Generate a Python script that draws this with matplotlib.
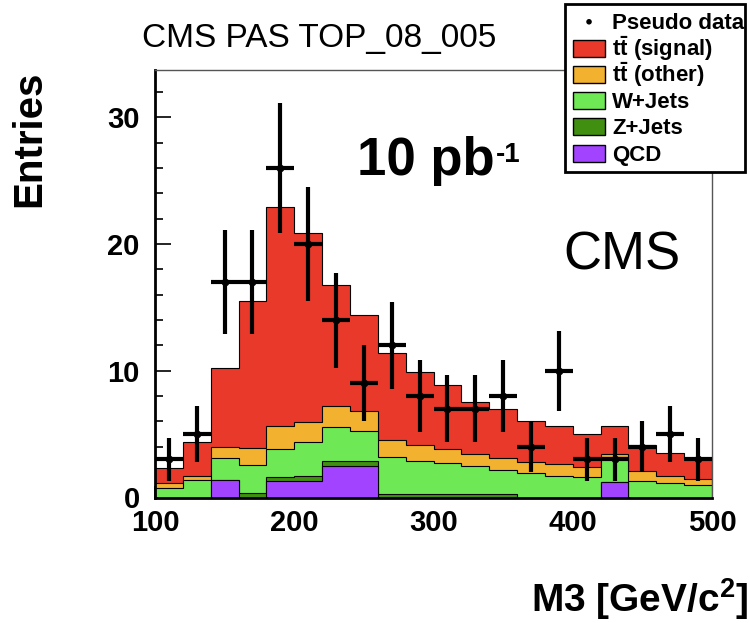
import numpy as np
import matplotlib
matplotlib.use("Agg")
import matplotlib.pyplot as plt
from matplotlib.patches import Patch, Rectangle, Circle
from matplotlib.legend_handler import HandlerPatch

plt.rcParams['font.family'] = ['Liberation Sans', 'DejaVu Sans']
plt.rcParams['mathtext.fontset'] = 'custom'
plt.rcParams['mathtext.rm'] = 'Liberation Sans'
plt.rcParams['mathtext.bf'] = 'Liberation Sans:bold'

# ---- data ----
bin_edges = np.arange(100, 501, 20)
qcd      = [0, 0, 1.35, 0, 1.3, 1.3, 2.45, 2.45, 0, 0, 0, 0, 0, 0, 0, 0, 1.25, 0, 0, 0]
zjets    = [0, 0, 0.03, 0.35, 0.3, 0.4, 0.45, 0.45, 0.3, 0.3, 0.3, 0.3, 0.25, 0, 0, 0, 0, 0, 0, 0]
wjets    = [0.77, 1.38, 1.71, 2.21, 2.23, 2.66, 2.69, 2.37, 2.92, 2.58, 2.4, 2.19, 1.92, 1.96, 1.72, 1.64, 1.97, 1.3, 1.12, 0.99]
tt_other = [0.35, 0.34, 0.87, 1.32, 1.81, 1.62, 1.66, 1.58, 1.32, 1.26, 1.1, 0.94, 0.97, 0.82, 0.9, 0.79, 0.21, 0.79, 0.6, 0.47]
tt_sig   = [1.18, 2.64, 6.29, 11.62, 17.26, 14.87, 9.5, 7.55, 6.84, 5.79, 5.08, 4.13, 3.82, 3.28, 3.05, 2.56, 2.24, 2.05, 1.82, 1.68]
pseudo_data = [3, 5, 17, 17, 26, 20, 14, 9, 12, 8, 7, 7, 8, 4, 10, 3, 3, 4, 5, 3]

labels = ['Pseudo data', r'$\mathbf{t\bar{t}}$ (signal)', r'$\mathbf{t\bar{t}}$ (other)',
          'W+Jets', 'Z+Jets', 'QCD']
colors = {'sig': '#E8392A', 'oth': '#F2B12E', 'w': '#6EE854', 'z': '#408F10', 'qcd': '#A244FF'}

W, H = 750, 623
fig = plt.figure(figsize=(W / 100, H / 100), dpi=100)
ax = fig.add_axes([155 / W, 1 - 497.5 / H, (712 - 155) / W, (497.5 - 70) / H])

layers = [qcd, zjets, wjets, tt_other, tt_sig]
layer_cols = [colors['qcd'], colors['z'], colors['w'], colors['oth'], colors['sig']]
cum = np.cumsum(np.array(layers, dtype=float), axis=0)
for i in range(len(layers) - 1, -1, -1):
    ax.stairs(cum[i], bin_edges, baseline=0, fill=True, facecolor=layer_cols[i],
              edgecolor='black', linewidth=0.8, zorder=2)

centers = 0.5 * (bin_edges[:-1] + bin_edges[1:])
d = np.array(pseudo_data, dtype=float)
ax.errorbar(centers, d, yerr=np.sqrt(d), xerr=10, fmt='o', ms=4.5, color='black',
            ecolor='black', elinewidth=3, capsize=0, zorder=5)

ax.set_xlim(100, 500)
ax.set_ylim(0, 33.74)
ax.set_xticks([100, 200, 300, 400, 500])
ax.set_xticks(np.arange(100, 501, 20), minor=True)
ax.set_yticks([0, 10, 20, 30])
ax.set_yticks(np.arange(0, 34, 2), minor=True)
ax.tick_params(axis='both', which='both', direction='in', top=False, right=False, width=1.2)
ax.tick_params(axis='x', which='major', length=9, pad=8)
ax.tick_params(axis='x', which='minor', length=4.5)
ax.tick_params(axis='y', which='major', length=11.5, pad=11)
ax.tick_params(axis='y', which='minor', length=6)
for lab in ax.get_xticklabels() + ax.get_yticklabels():
    lab.set_fontsize(21)
    lab.set_fontweight('bold')
for s in ['left', 'bottom']:
    ax.spines[s].set_linewidth(2)
for s in ['top', 'right']:
    ax.spines[s].set_linewidth(1)
    ax.spines[s].set_color('#555555')

# texts
fig.text(142 / W, 1 - 47 / H, 'CMS PAS TOP_08_005', fontsize=24, ha='left', va='baseline')
t = fig.text(357 / W, 1 - 175 / H, '10 pb', fontsize=38, fontweight='bold', ha='left', va='baseline')
ax.annotate('-1', xy=(1.0, 1.0), xycoords=t, xytext=(1, -4), textcoords='offset points',
            fontsize=20, fontweight='bold', ha='left', va='top')
fig.text(563 / W, 1 - 270 / H, 'CMS', fontsize=38, ha='left', va='baseline')
fig.text(748 / W, 1 - 612 / H, r'M3 [GeV/c$^{\mathbf{2}}$]', fontsize=28, fontweight='bold',
         ha='right', va='baseline')
fig.text(29 / W, 1 - 139 / H, 'Entries', fontsize=29, fontweight='bold', rotation=90,
         ha='center', va='center')

# legend (uniform rows: tall handle boxes dominate row height)
LEG_FS = 16
PATCH_H = 12.2   # points
PATCH_X0 = 5.0   # points from handle-box left
PATCH_W = 23.0   # points
YC = 0.34 * LEG_FS


def legend_rect(legend, orig_handle, xdescent, ydescent, width, height, fontsize):
    return Rectangle((-xdescent + PATCH_X0, YC - PATCH_H / 2), PATCH_W, PATCH_H)


def legend_dot(legend, orig_handle, xdescent, ydescent, width, height, fontsize):
    return Circle((-xdescent + PATCH_X0 + PATCH_W / 2, YC), 2.0)


data_handle = Patch(facecolor='black', edgecolor='black', linewidth=0)
handles = [data_handle]
for c in [colors['sig'], colors['oth'], colors['w'], colors['z'], colors['qcd']]:
    handles.append(Patch(facecolor=c, edgecolor='black', linewidth=1))
leg = fig.legend(handles, labels, loc='upper left', bbox_to_anchor=(565 / W, 1 - 4 / H),
                 borderaxespad=0, fancybox=False, framealpha=1, edgecolor='black',
                 prop={'size': LEG_FS, 'weight': 'bold'}, handlelength=1.77, handleheight=2.0,
                 handletextpad=0.3, labelspacing=-0.3625, borderpad=0.05,
                 handler_map={data_handle: HandlerPatch(patch_func=legend_dot),
                              Patch: HandlerPatch(patch_func=legend_rect)})
leg.get_frame().set_linewidth(2)

fig.savefig('out.png', dpi=100)
